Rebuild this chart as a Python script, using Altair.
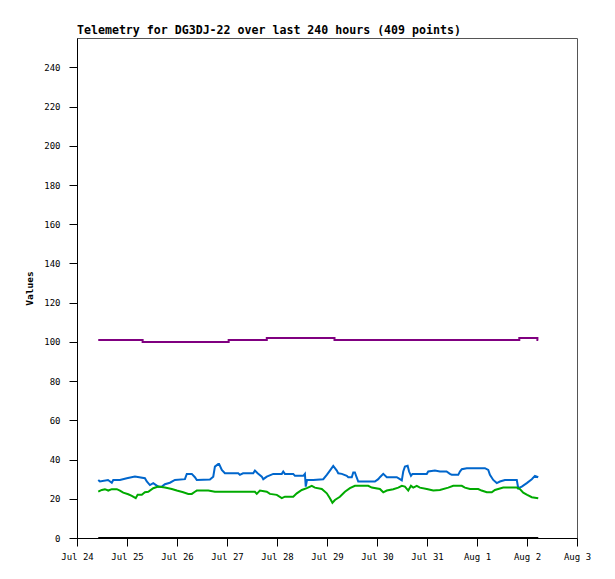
import altair as alt
import pandas as pd
from datetime import datetime, timedelta

BASE = datetime(2023, 7, 24)

# hours since Jul 24 00:00 and values
blue_hours = [10.2, 11.0, 14.9, 16.7, 17.4, 20.6, 23.9, 27.8, 32.6, 33.5, 35.0, 36.6, 39.0, 40.7,
              42.2, 44.6, 47.0, 51.8, 52.7, 55.1, 56.6, 57.5, 63.8, 65.4, 66.2, 67.8, 68.2, 69.5,
              71.0, 77.4, 78.2, 79.7, 84.6, 85.4, 86.7, 88.7, 89.4, 91.1, 94.2, 98.3, 99.0, 99.8,
              103.8, 104.6, 108.6, 109.4, 109.8, 110.4, 113.4, 118.2, 119.9, 121.4, 123.0, 124.7,
              125.4, 127.1, 129.5, 130.2, 131.9, 132.6, 133.4, 134.2, 135.0, 143.0, 144.6, 145.4,
              147.0, 148.7, 153.5, 155.0, 155.9, 156.6, 157.4, 158.7, 159.4, 160.3, 161.0, 167.9,
              168.6, 171.8, 174.2, 177.4, 179.0, 179.9, 183.0, 183.8, 184.7, 187.1, 195.8, 197.4,
              198.2, 199.8, 201.5, 203.0, 205.4, 211.1, 211.8, 213.5, 215.9, 218.3, 219.8, 221.4]
blue_values = [29.6, 28.8, 29.6, 28.2, 29.6, 29.6, 30.5, 31.3, 30.5, 28.8, 27.0, 28.0, 26.2, 26.2,
               27.4, 28.2, 29.6, 30.0, 32.7, 32.7, 31.0, 29.6, 29.8, 31.3, 36.4, 37.8, 37.8, 34.7,
               33.0, 33.0, 32.2, 33.0, 33.0, 34.4, 33.0, 31.3, 30.0, 31.3, 32.7, 32.7, 33.9, 32.7,
               32.7, 31.7, 31.7, 32.7, 26.2, 29.6, 29.6, 30.0, 32.2, 34.4, 36.8, 34.4,
               33.0, 32.7, 31.7, 31.0, 31.0, 33.4, 33.4, 31.0, 28.8, 28.8, 30.0, 31.0,
               32.7, 31.0, 31.0, 30.0, 29.4, 33.9, 36.4, 36.8, 33.9, 31.7, 32.7, 32.7,
               33.9, 34.4, 33.9, 33.9, 32.7, 32.2, 32.2, 33.9, 35.1, 35.6, 35.6, 34.7,
               32.2, 29.6, 28.0, 28.8, 29.6, 29.6, 25.4, 26.2, 28.0, 30.0, 31.7, 31.0]

green_hours = [10.2, 11.9, 13.4, 15.0, 16.7, 19.1, 20.6, 22.2, 24.6, 26.3, 28.2, 29.1, 31.1, 32.6,
               34.2, 36.6, 39.0, 42.2, 45.5, 47.9, 51.0, 53.4, 55.1, 56.6, 57.5, 63.0, 66.2, 85.4,
               86.3, 87.8, 91.1, 92.6, 95.9, 98.3, 99.8, 103.8, 105.5, 107.9, 110.3, 112.7, 114.2,
               117.5, 119.9, 121.4, 122.6, 123.8, 126.2, 128.6, 131.0, 133.4, 139.8, 141.5, 145.4,
               147.0, 148.7, 151.8, 154.2, 155.9, 157.4, 159.0, 160.3, 161.4, 163.1, 164.6, 167.9,
               171.0, 174.2, 178.2, 180.6, 184.7, 186.2, 188.6, 192.6, 194.2, 196.7, 199.1, 200.6,
               204.6, 211.1, 212.6, 214.2, 216.1, 218.3, 221.4]
green_values = [23.6, 24.5, 24.9, 24.2, 24.9, 24.9, 24.2, 23.1, 22.3, 21.5, 20.3, 22.0, 22.0, 23.3,
                23.6, 25.4, 26.2, 25.7, 25.0, 24.2, 23.3, 22.5, 22.5, 23.6, 24.2, 24.2, 23.6, 23.6,
                22.5, 24.2, 23.6, 22.5, 22.0, 20.3, 21.1, 21.1, 22.8, 24.5, 25.4, 26.6, 25.7,
                25.0, 22.8, 20.3, 18.0, 19.4, 21.0, 23.6, 25.4, 26.6, 26.6, 25.7, 25.0,
                23.3, 24.2, 24.9, 25.7, 26.6, 26.2, 24.2, 26.6, 25.7, 26.6, 25.7, 25.0,
                24.2, 24.5, 25.7, 26.6, 26.6, 25.7, 25.0, 25.0, 24.2, 23.3, 23.3, 24.5,
                25.7, 25.7, 24.9, 23.1, 22.0, 20.8, 20.3]

purple_hours = [10.2, 31.5, 72.8, 91.1, 123.6, 212.3, 221.0, 221.4]
purple_values = [101, 100, 101, 102, 101, 102, 101, 101]

black_hours = [10.2, 221.4]
black_values = [0, 0]

series_names = ["purple", "blue", "green", "black"]
series_colors = ["#800080", "#0066cc", "#00aa00", "#000000"]

y_ticks = list(range(0, 241, 20))
x_tick_days = [(7, 24), (7, 25), (7, 26), (7, 27), (7, 28), (7, 29), (7, 30), (7, 31),
               (8, 1), (8, 2), (8, 3)]


def ts(h):
    return (BASE + timedelta(hours=h)).strftime("%Y-%m-%dT%H:%M:%SZ")


rows = []
for name, hrs, vals in [("blue", blue_hours, blue_values),
                        ("green", green_hours, green_values),
                        ("black", black_hours, black_values)]:
    for h, v in zip(hrs, vals):
        rows.append({"t": ts(h), "v": v, "s": name})
lin_df = pd.DataFrame(rows)
step_df = pd.DataFrame({"t": [ts(h) for h in purple_hours], "v": purple_values,
                        "s": ["purple"] * len(purple_hours)})

FONT = "DejaVu Sans Mono"

x_enc = alt.X("t:T", title=None,
              scale=alt.Scale(type="utc",
                              domain=[alt.DateTime(year=2023, month=7, date=24, utc=True),
                                      alt.DateTime(year=2023, month=8, date=3, utc=True)],
                              nice=False),
              axis=alt.Axis(values=[alt.DateTime(year=2023, month=m, date=d, utc=True)
                                    for m, d in x_tick_days],
                            format="%b %-d", grid=False, labelFlush=False,
                            labelOverlap=False))
y_enc = alt.Y("v:Q", title="Values",
              scale=alt.Scale(domain=[0, 255], nice=False, zero=True),
              axis=alt.Axis(values=y_ticks, grid=False))
c_enc = alt.Color("s:N", scale=alt.Scale(domain=series_names, range=series_colors), legend=None)

lines = alt.Chart(lin_df).mark_line(strokeWidth=2).encode(
    x=x_enc, y=y_enc, color=c_enc, detail="s:N")
steps = alt.Chart(step_df).mark_line(strokeWidth=2, interpolate="step-after").encode(
    x=x_enc, y=y_enc, color=c_enc)

chart = alt.layer(steps, lines).properties(
    width=500, height=500,
    title=alt.TitleParams("Telemetry for DG3DJ-22 over last 240 hours (409 points)",
                          anchor="start", frame="group", font=FONT, fontSize=11.6,
                          fontWeight="bold", color="#000000", offset=1),
    autosize=alt.AutoSizeParams(type="none"),
    padding={"left": 69, "top": 30, "right": 30, "bottom": 33},
).configure_view(stroke="#555555", strokeWidth=1).configure_axis(
    domainColor="#000000", tickColor="#000000", tickSize=8, domainWidth=1, tickWidth=1,
    labelFont=FONT, labelFontSize=9, labelColor="#000000",
    titleFont=FONT, titleFontSize=9.5, titleFontWeight="bold", titleColor="#000000",
).configure_axisY(labelPadding=9, titlePadding=9).configure_axisX(labelPadding=6)

chart.save("out.html", embed_options={"renderer": "svg", "actions": False})
